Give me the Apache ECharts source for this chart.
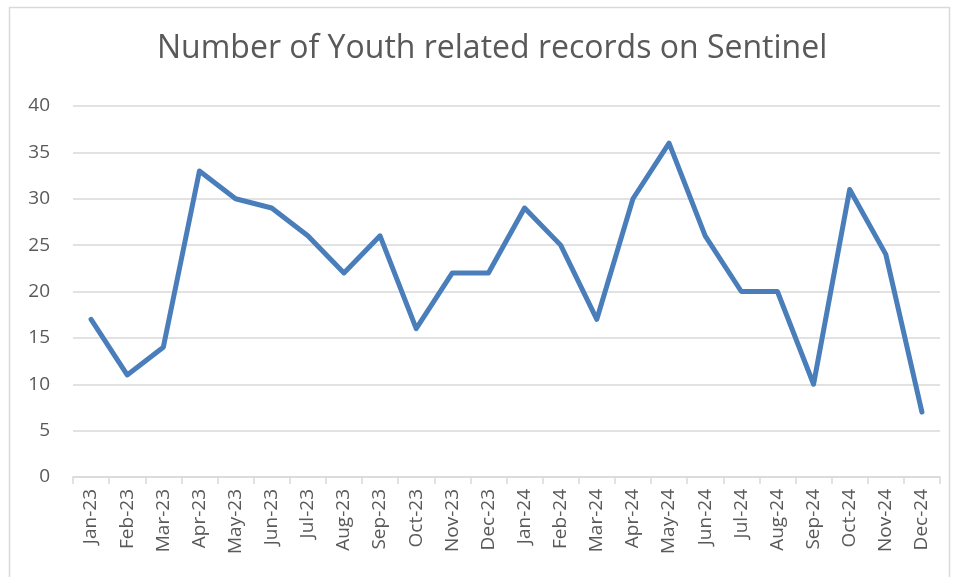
<!DOCTYPE html>
<html>
<head>
<meta charset="utf-8">
<script src="https://cdn.jsdelivr.net/npm/echarts@6/dist/echarts.min.js"></script>
<style>
  html, body { margin: 0; padding: 0; background: #fff; }
  #chart { width: 953px; height: 577px; }
</style>
</head>
<body>
<div id="chart"></div>
<script>
const months = [
  'Jan-23', 'Feb-23', 'Mar-23', 'Apr-23', 'May-23', 'Jun-23',
  'Jul-23', 'Aug-23', 'Sep-23', 'Oct-23', 'Nov-23', 'Dec-23',
  'Jan-24', 'Feb-24', 'Mar-24', 'Apr-24', 'May-24', 'Jun-24',
  'Jul-24', 'Aug-24', 'Sep-24', 'Oct-24', 'Nov-24', 'Dec-24'
];
const records = [17, 11, 14, 33, 30, 29, 26, 22, 26, 16, 22, 22, 29, 25, 17, 30, 36, 26, 20, 20, 10, 31, 24, 7];

const chart = echarts.init(document.getElementById('chart'));

chart.setOption({
  animation: false,
  backgroundColor: '#fff',
  textStyle: { fontFamily: 'Open Sans' },
  title: {
    text: 'Number of Youth related records on Sentinel',
    left: 152,
    top: 28,
    textStyle: {
      color: '#595959',
      fontSize: 32,
      fontWeight: 'normal',
      fontFamily: 'Open Sans'
    }
  },
  graphic: [
    {
      type: 'rect',
      shape: { x: 9.5, y: 7.5, width: 940, height: 580 },
      style: { fill: 'none', stroke: '#d9d9d9', lineWidth: 1.5 },
      silent: true
    }
  ],
  grid: {
    left: 73,
    right: 13,
    top: 106,
    bottom: 100
  },
  xAxis: {
    type: 'category',
    data: months,
    boundaryGap: true,
    axisLine: { lineStyle: { color: '#d9d9d9', width: 1.5 } },
    axisTick: { show: true, length: 7, lineStyle: { color: '#d9d9d9', width: 1.5 } },
    axisLabel: {
      rotate: 90,
      color: '#595959',
      fontSize: 19,
      margin: 12,
      interval: 0
    }
  },
  yAxis: {
    type: 'value',
    min: 0,
    max: 40,
    interval: 5,
    axisLine: { show: false },
    axisTick: { show: false },
    splitLine: { lineStyle: { color: '#d9d9d9', width: 1.5 } },
    axisLabel: {
      color: '#595959',
      fontSize: 19,
      margin: 23
    }
  },
  series: [
    {
      type: 'line',
      data: records,
      symbol: 'none',
      lineStyle: { color: '#4a7ebb', width: 5, join: 'round', cap: 'round' },
      itemStyle: { color: '#4a7ebb' }
    }
  ]
});

window.addEventListener('resize', () => {
  chart.resize();
});
</script>
</body>
</html>
